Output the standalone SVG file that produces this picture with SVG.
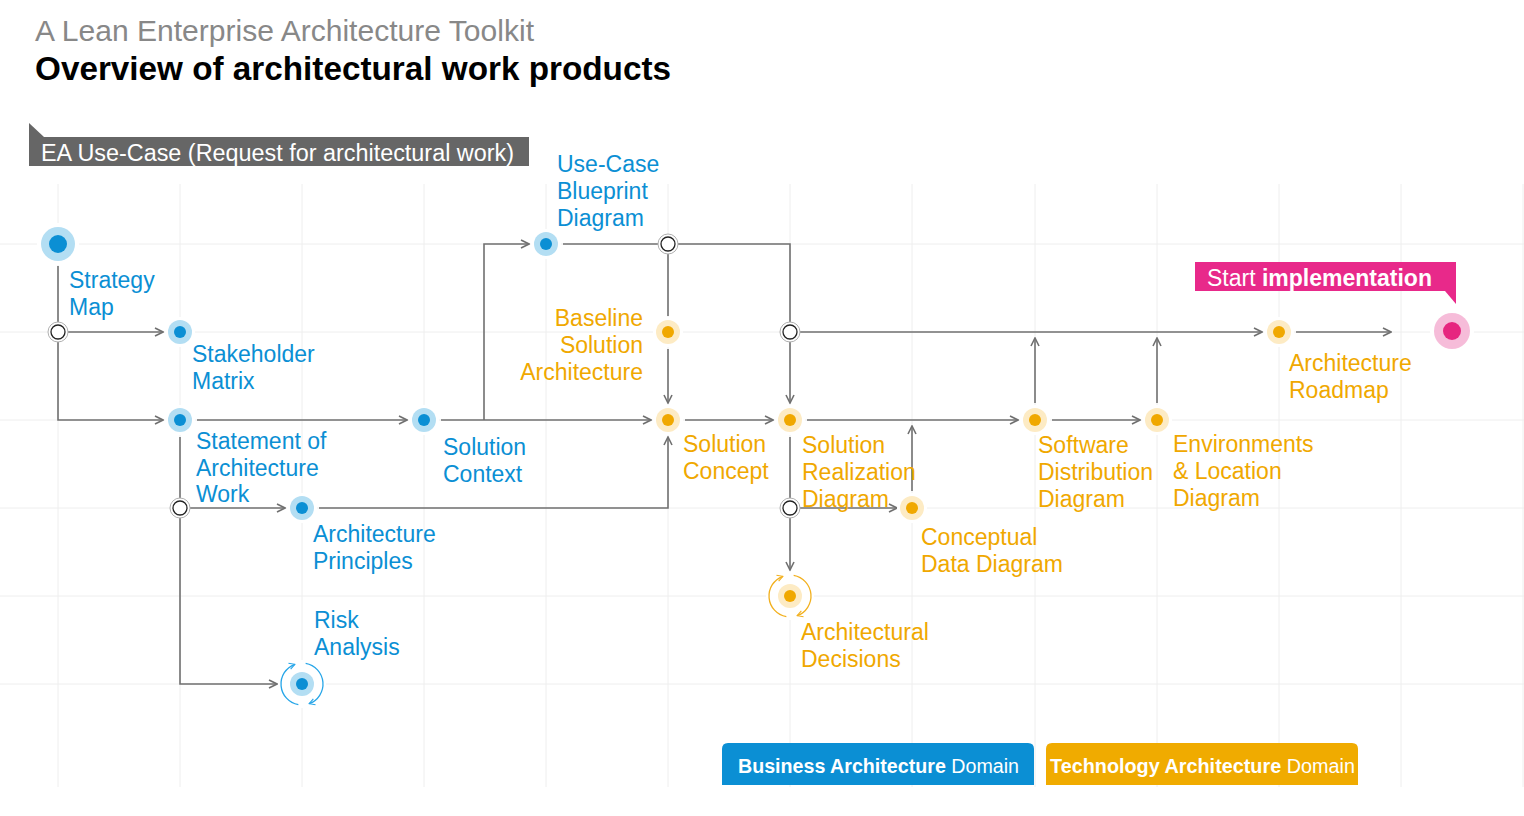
<svg xmlns="http://www.w3.org/2000/svg" width="1524" height="816" viewBox="0 0 1524 816">
<defs>
<style>
text{font-family:"Liberation Sans",Arial,sans-serif}
.grid line{stroke:#eeeeee;stroke-width:1}
.conn path{fill:none;stroke:#707070;stroke-width:1.6}
.arr{marker-end:url(#arr)}
.lb{font-size:23px;fill:#0b8fd4}
.lo{font-size:23px;fill:#f0a800}
.halo{fill:#ffffff}
.bo{fill:#b3def3}
.bi{fill:#0b8fd4}
.oo{fill:#fdebc4}
.oi{fill:#f0a800}
.jo{fill:#ffffff;stroke:#b0b0b0;stroke-width:1}
.ji{fill:#ffffff;stroke:#222222;stroke-width:1.3}
.cycb{fill:none;stroke:#27a6e8;stroke-width:1.3;marker-end:url(#ca-b)}
.cyco{fill:none;stroke:#f2b01e;stroke-width:1.3;marker-end:url(#ca-o)}
</style>
<marker id="arr" viewBox="0 0 10 10" refX="9" refY="5" markerWidth="10" markerHeight="10" markerUnits="userSpaceOnUse" orient="auto"><path d="M1,1 L9,5 L1,9" fill="none" stroke="#707070" stroke-width="1.6"/></marker>
<marker id="ca-b" viewBox="0 0 10 10" refX="8" refY="5" markerWidth="8" markerHeight="8" markerUnits="userSpaceOnUse" orient="auto"><path d="M1,1 L8,5 L1,9" fill="none" stroke="#27a6e8" stroke-width="1.4"/></marker>
<marker id="ca-o" viewBox="0 0 10 10" refX="8" refY="5" markerWidth="8" markerHeight="8" markerUnits="userSpaceOnUse" orient="auto"><path d="M1,1 L8,5 L1,9" fill="none" stroke="#f2b01e" stroke-width="1.4"/></marker>
</defs>
<rect x="0" y="0" width="1524" height="816" fill="#ffffff"/>

<g class="grid">
<line x1="58" y1="184" x2="58" y2="787"/>
<line x1="180" y1="184" x2="180" y2="787"/>
<line x1="302" y1="184" x2="302" y2="787"/>
<line x1="424" y1="184" x2="424" y2="787"/>
<line x1="546" y1="184" x2="546" y2="787"/>
<line x1="668" y1="184" x2="668" y2="787"/>
<line x1="790" y1="184" x2="790" y2="787"/>
<line x1="912" y1="184" x2="912" y2="787"/>
<line x1="1035" y1="184" x2="1035" y2="787"/>
<line x1="1157" y1="184" x2="1157" y2="787"/>
<line x1="1279" y1="184" x2="1279" y2="787"/>
<line x1="1401" y1="184" x2="1401" y2="787"/>
<line x1="1523" y1="184" x2="1523" y2="787"/>
<line x1="0" y1="244" x2="1524" y2="244"/>
<line x1="0" y1="332" x2="1524" y2="332"/>
<line x1="0" y1="420" x2="1524" y2="420"/>
<line x1="0" y1="508" x2="1524" y2="508"/>
<line x1="0" y1="596" x2="1524" y2="596"/>
<line x1="0" y1="684" x2="1524" y2="684"/>
</g>

<g id="titles">
<text x="35" y="41" font-size="29" fill="#888888" textLength="499" lengthAdjust="spacingAndGlyphs">A Lean Enterprise Architecture Toolkit</text>
<text x="35" y="80" font-size="33" font-weight="bold" fill="#000000" textLength="636" lengthAdjust="spacingAndGlyphs">Overview of architectural work products</text>
</g>

<g id="ea-use-case">
<path d="M29,123 L29,137 L44,137 Z" fill="#666666"/>
<rect x="29" y="137" width="500" height="29" fill="#666666"/>
<text x="41" y="161" font-size="23" fill="#ffffff" textLength="473" lengthAdjust="spacingAndGlyphs">EA Use-Case (Request for architectural work)</text>
</g>

<g class="conn" id="connectors">
<path d="M58,266 V323"/>
<path class="arr" d="M67,332 H163"/>
<path class="arr" d="M58,341 V420 H163"/>
<path class="arr" d="M197,420 H407"/>
<path d="M180,437 V499"/>
<path class="arr" d="M189,508 H285"/>
<path class="arr" d="M180,517 V684 H277"/>
<path class="arr" d="M441,420 H651"/>
<path class="arr" d="M484,420 V244 H529"/>
<path d="M563,244 H659"/>
<path d="M677,244 H790 V323"/>
<path d="M668,253 V316"/>
<path class="arr" d="M668,349 V403"/>
<path class="arr" d="M799,332 H1262"/>
<path class="arr" d="M790,341 V403"/>
<path class="arr" d="M319,508 H668 V437"/>
<path class="arr" d="M685,420 H773"/>
<path class="arr" d="M807,420 H1018"/>
<path d="M790,437 V499"/>
<path class="arr" d="M799,508 H897"/>
<path class="arr" d="M790,517 V570"/>
<path class="arr" d="M912,491 V426"/>
<path class="arr" d="M1052,420 H1140"/>
<path class="arr" d="M1035,403 V338"/>
<path class="arr" d="M1157,403 V338"/>
<path class="arr" d="M1296,332 H1391"/>
</g>

<g id="junctions">
<g id="j1"><circle cx="58" cy="332" r="10" class="jo"/><circle cx="58" cy="332" r="7" class="ji"/></g>
<g id="j2"><circle cx="180" cy="508" r="10" class="jo"/><circle cx="180" cy="508" r="7" class="ji"/></g>
<g id="j3"><circle cx="668" cy="244" r="10" class="jo"/><circle cx="668" cy="244" r="7" class="ji"/></g>
<g id="j4"><circle cx="790" cy="332" r="10" class="jo"/><circle cx="790" cy="332" r="7" class="ji"/></g>
<g id="j5"><circle cx="790" cy="508" r="10" class="jo"/><circle cx="790" cy="508" r="7" class="ji"/></g>
</g>

<g id="strategy-map">
<circle cx="58" cy="244" r="21" class="halo"/>
<circle cx="58" cy="244" r="17" class="bo"/>
<circle cx="58" cy="244" r="9" class="bi"/>
<text class="lb" x="69" y="288">Strategy</text>
<text class="lb" x="69" y="315">Map</text>
</g>

<g id="stakeholder-matrix">
<circle cx="180" cy="332" r="15" class="halo"/>
<circle cx="180" cy="332" r="12" class="bo"/>
<circle cx="180" cy="332" r="6" class="bi"/>
<text class="lb" x="192" y="362">Stakeholder</text>
<text class="lb" x="192" y="389">Matrix</text>
</g>

<g id="statement-of-architecture-work">
<circle cx="180" cy="420" r="15" class="halo"/>
<circle cx="180" cy="420" r="12" class="bo"/>
<circle cx="180" cy="420" r="6" class="bi"/>
<text class="lb" x="196" y="449">Statement of</text>
<text class="lb" x="196" y="476">Architecture</text>
<text class="lb" x="196" y="502">Work</text>
</g>

<g id="solution-context">
<circle cx="424" cy="420" r="15" class="halo"/>
<circle cx="424" cy="420" r="12" class="bo"/>
<circle cx="424" cy="420" r="6" class="bi"/>
<text class="lb" x="443" y="455">Solution</text>
<text class="lb" x="443" y="482">Context</text>
</g>

<g id="use-case-blueprint-diagram">
<circle cx="546" cy="244" r="15" class="halo"/>
<circle cx="546" cy="244" r="12" class="bo"/>
<circle cx="546" cy="244" r="6" class="bi"/>
<text class="lb" x="557" y="172">Use-Case</text>
<text class="lb" x="557" y="199">Blueprint</text>
<text class="lb" x="557" y="226">Diagram</text>
</g>

<g id="architecture-principles">
<circle cx="302" cy="508" r="15" class="halo"/>
<circle cx="302" cy="508" r="12" class="bo"/>
<circle cx="302" cy="508" r="6" class="bi"/>
<text class="lb" x="313" y="542">Architecture</text>
<text class="lb" x="313" y="569">Principles</text>
</g>

<g id="risk-analysis">
<circle cx="302" cy="684" r="24" class="halo"/>
<circle cx="302" cy="684" r="12" class="bo"/>
<circle cx="302" cy="684" r="6" class="bi"/>
<path class="cycb" d="M298.35,704.68 A21,21 0 0 1 294.82,664.27"/>
<path class="cycb" d="M305.65,663.32 A21,21 0 0 1 309.18,703.73"/>
<text class="lb" x="314" y="628">Risk</text>
<text class="lb" x="314" y="655">Analysis</text>
</g>

<g id="baseline-solution-architecture">
<circle cx="668" cy="332" r="15" class="halo"/>
<circle cx="668" cy="332" r="12" class="oo"/>
<circle cx="668" cy="332" r="6" class="oi"/>
<text class="lo" x="643" y="326" text-anchor="end">Baseline</text>
<text class="lo" x="643" y="353" text-anchor="end">Solution</text>
<text class="lo" x="643" y="380" text-anchor="end">Architecture</text>
</g>

<g id="solution-concept">
<circle cx="668" cy="420" r="15" class="halo"/>
<circle cx="668" cy="420" r="12" class="oo"/>
<circle cx="668" cy="420" r="6" class="oi"/>
<text class="lo" x="683" y="452">Solution</text>
<text class="lo" x="683" y="479">Concept</text>
</g>

<g id="solution-realization-diagram">
<circle cx="790" cy="420" r="15" class="halo"/>
<circle cx="790" cy="420" r="12" class="oo"/>
<circle cx="790" cy="420" r="6" class="oi"/>
<text class="lo" x="802" y="453">Solution</text>
<text class="lo" x="802" y="480">Realization</text>
<text class="lo" x="802" y="507">Diagram</text>
</g>

<g id="conceptual-data-diagram">
<circle cx="912" cy="508" r="15" class="halo"/>
<circle cx="912" cy="508" r="12" class="oo"/>
<circle cx="912" cy="508" r="6" class="oi"/>
<text class="lo" x="921" y="545">Conceptual</text>
<text class="lo" x="921" y="572">Data Diagram</text>
</g>

<g id="architectural-decisions">
<circle cx="790" cy="596" r="24" class="halo"/>
<circle cx="790" cy="596" r="12" class="oo"/>
<circle cx="790" cy="596" r="6" class="oi"/>
<path class="cyco" d="M786.35,616.68 A21,21 0 0 1 782.82,576.27"/>
<path class="cyco" d="M793.65,575.32 A21,21 0 0 1 797.18,615.73"/>
<text class="lo" x="801" y="640">Architectural</text>
<text class="lo" x="801" y="667">Decisions</text>
</g>

<g id="software-distribution-diagram">
<circle cx="1035" cy="420" r="15" class="halo"/>
<circle cx="1035" cy="420" r="12" class="oo"/>
<circle cx="1035" cy="420" r="6" class="oi"/>
<text class="lo" x="1038" y="453">Software</text>
<text class="lo" x="1038" y="480">Distribution</text>
<text class="lo" x="1038" y="507">Diagram</text>
</g>

<g id="environments-location-diagram">
<circle cx="1157" cy="420" r="15" class="halo"/>
<circle cx="1157" cy="420" r="12" class="oo"/>
<circle cx="1157" cy="420" r="6" class="oi"/>
<text class="lo" x="1173" y="452">Environments</text>
<text class="lo" x="1173" y="479">&amp; Location</text>
<text class="lo" x="1173" y="506">Diagram</text>
</g>

<g id="architecture-roadmap">
<circle cx="1279" cy="332" r="15" class="halo"/>
<circle cx="1279" cy="332" r="12" class="oo"/>
<circle cx="1279" cy="332" r="6" class="oi"/>
<text class="lo" x="1289" y="371">Architecture</text>
<text class="lo" x="1289" y="398">Roadmap</text>
</g>

<g id="start-implementation">
<circle cx="1452" cy="331" r="22" class="halo"/>
<circle cx="1452" cy="331" r="18" fill="#f6bcd9"/>
<circle cx="1452" cy="331" r="9" fill="#e6267f"/>
<rect x="1195" y="262" width="261" height="29" fill="#e8298a"/>
<path d="M1445,291 L1456,291 L1456,304 Z" fill="#e8298a"/>
<text x="1207" y="286" font-size="23" fill="#ffffff">Start <tspan font-weight="bold">implementation</tspan></text>
</g>

<g id="legend-business">
<path d="M722,785 V749 Q722,743 728,743 H1028 Q1034,743 1034,749 V785 Z" fill="#0b8fd4"/>
<text x="738" y="773" font-size="19.5" fill="#ffffff" textLength="281" lengthAdjust="spacingAndGlyphs"><tspan font-weight="bold">Business Architecture</tspan> Domain</text>
</g>
<g id="legend-technology">
<path d="M1046,785 V749 Q1046,743 1052,743 H1352 Q1358,743 1358,749 V785 Z" fill="#f0ab00"/>
<text x="1050" y="773" font-size="19.5" fill="#ffffff" textLength="305" lengthAdjust="spacingAndGlyphs"><tspan font-weight="bold">Technology Architecture</tspan> Domain</text>
</g>
</svg>
